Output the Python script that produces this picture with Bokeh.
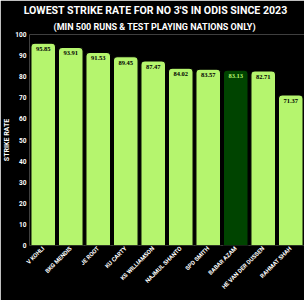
import math
from bokeh.plotting import figure
from bokeh.models import ColumnDataSource, Title, FixedTicker
from bokeh.embed import file_html
from bokeh.resources import INLINE

players = ["V KOHLI", "BKG MENDIS", "JE ROOT", "KU CARTY", "KS WILLIAMSON",
           "NAJMUL SHANTO", "SPD SMITH", "BABAR AZAM", "HE VAN DER DUSSEN", "RAHMAT SHAH"]
strike_rates = [95.85, 93.91, 91.53, 89.45, 87.47, 84.02, 83.57, 83.13, 82.71, 71.37]
highlight = "BABAR AZAM"
y_ticks = [0, 10, 20, 30, 40, 50, 60, 70, 80, 90, 100]
title_text = "LOWEST STRIKE RATE FOR NO 3'S IN ODIS SINCE 2023"
subtitle_text = "(MIN 500 RUNS & TEST PLAYING NATIONS ONLY)"

colors = ["#004400" if n == highlight else "#b5f56e" for n in players]
labels = [f"{v:.2f}" for v in strike_rates]
label_colors = ["#b5f56e" if n == highlight else "black" for n in players]
src = ColumnDataSource(dict(x=players, top=strike_rates, color=colors,
                            label=labels, lc=label_colors))

FONT = "Roboto"

p = figure(x_range=players, y_range=(0, 100), width=304, height=300,
           output_backend="svg", toolbar_location=None,
           background_fill_color="black", border_fill_color="black",
           min_border_left=24, min_border_right=0, min_border_bottom=55, min_border_top=33)
p.outline_line_color = None

p.vbar(x="x", top="top", width=0.9, fill_color="color", line_color="black",
       line_width=1.2, border_radius=(4, 4, 0, 0), source=src)
p.text(x="x", y="top", text="label", text_color="lc", source=src,
       text_align="center", text_baseline="top", y_offset=4,
       text_font_size="6.5px", text_font_style="bold", text_font=FONT)

p.xgrid.visible = False
p.ygrid.visible = False
for ax in (p.xaxis[0], p.yaxis[0]):
    ax.axis_line_color = None
    ax.major_tick_line_color = None
    ax.minor_tick_line_color = None
    ax.major_tick_out = 0
    ax.major_tick_in = 0
    ax.minor_tick_out = 0
    ax.minor_tick_in = 0
    ax.major_label_text_color = "white"
    ax.major_label_text_font = FONT
    ax.major_label_text_font_style = "bold"
p.yaxis.ticker = FixedTicker(ticks=y_ticks)
p.yaxis.major_label_text_font_size = "6.5px"
p.yaxis.major_label_standoff = 3
p.yaxis.axis_label = "STRIKE RATE"
p.yaxis.axis_label_text_color = "white"
p.yaxis.axis_label_text_font = FONT
p.yaxis.axis_label_text_font_style = "bold"
p.yaxis.axis_label_text_font_size = "7px"
p.yaxis.axis_label_standoff = 1
p.xaxis.major_label_orientation = math.pi / 4
p.xaxis.major_label_text_font_size = "5.9px"
p.xaxis.major_label_standoff = 2

p.add_layout(Title(text=subtitle_text, align="left", text_color="white", text_font=FONT,
                   text_font_style="bold", text_font_size="9px", offset=24, standoff=5), "above")
p.add_layout(Title(text=title_text, align="right", text_color="white", text_font=FONT,
                   text_font_style="bold", text_font_size="10.6px", offset=17, standoff=2), "above")

open("out.html", "w").write(file_html(p, INLINE))
